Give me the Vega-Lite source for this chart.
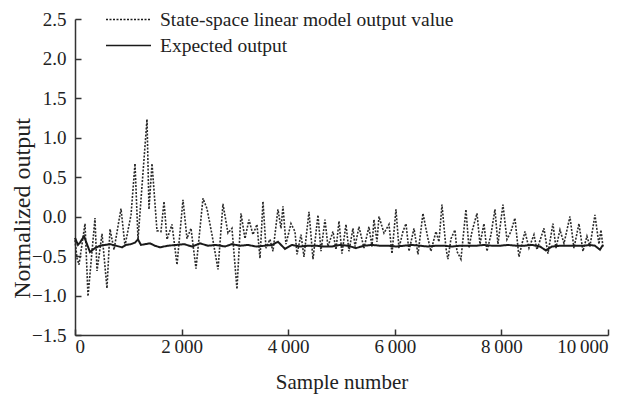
{
  "$schema": "https://vega.github.io/schema/vega-lite/v6.json",
  "autosize": "none",
  "width": 533,
  "height": 316,
  "padding": {"left": 75, "top": 19, "right": 29, "bottom": 62},
  "background": "white",
  "config": {
    "view": {"stroke": null},
    "font": "Times New Roman, Liberation Serif, serif",
    "axis": {
      "grid": false,
      "domainColor": "#333",
      "domainWidth": 1.5,
      "tickColor": "#333",
      "tickWidth": 1.5,
      "tickSize": -6,
      "labelFont": "Times New Roman, Liberation Serif, serif",
      "titleFont": "Times New Roman, Liberation Serif, serif",
      "labelFontSize": 19,
      "labelColor": "#222",
      "titleFontWeight": "normal",
      "titleColor": "#222"
    },
    "legend": {
      "labelFont": "Times New Roman, Liberation Serif, serif",
      "labelFontSize": 19.5,
      "labelColor": "#222",
      "labelLimit": 0
    }
  },
  "datasets": {
    "model": [
      {"sample":0,"value":-0.30},{"sample":38,"value":-0.53},{"sample":75,"value":-0.61},{"sample":188,"value":-0.09},{"sample":244,"value":-1.01},{"sample":375,"value":-0.02},{"sample":413,"value":-0.69},{"sample":507,"value":-0.22},{"sample":600,"value":-0.91},{"sample":657,"value":-0.16},{"sample":732,"value":-0.42},{"sample":863,"value":0.10},{"sample":938,"value":-0.37},{"sample":1051,"value":0.02},{"sample":1126,"value":0.67},{"sample":1182,"value":-0.29},{"sample":1351,"value":1.23},{"sample":1388,"value":0.09},{"sample":1445,"value":0.67},{"sample":1538,"value":-0.18},{"sample":1613,"value":-0.19},{"sample":1670,"value":0.19},{"sample":1726,"value":-0.29},{"sample":1820,"value":-0.10},{"sample":1914,"value":-0.61},{"sample":2026,"value":0.21},{"sample":2101,"value":-0.28},{"sample":2176,"value":-0.15},{"sample":2270,"value":-0.66},{"sample":2401,"value":0.23},{"sample":2476,"value":0.10},{"sample":2570,"value":-0.23},{"sample":2683,"value":-0.67},{"sample":2776,"value":0.16},{"sample":2870,"value":-0.21},{"sample":2945,"value":-0.15},{"sample":3039,"value":-0.92},{"sample":3114,"value":0.04},{"sample":3189,"value":-0.28},{"sample":3264,"value":-0.04},{"sample":3339,"value":-0.23},{"sample":3414,"value":-0.10},{"sample":3471,"value":-0.53},{"sample":3527,"value":0.19},{"sample":3583,"value":-0.40},{"sample":3658,"value":-0.29},{"sample":3714,"value":-0.44},{"sample":3808,"value":0.09},{"sample":3865,"value":-0.15},{"sample":3902,"value":0.13},{"sample":3958,"value":-0.35},{"sample":4052,"value":-0.09},{"sample":4127,"value":-0.19},{"sample":4165,"value":-0.48},{"sample":4240,"value":-0.23},{"sample":4296,"value":-0.51},{"sample":4390,"value":0.06},{"sample":4465,"value":-0.54},{"sample":4559,"value":0.02},{"sample":4615,"value":-0.44},{"sample":4690,"value":-0.04},{"sample":4746,"value":-0.38},{"sample":4840,"value":-0.19},{"sample":4896,"value":-0.42},{"sample":4953,"value":-0.06},{"sample":5009,"value":-0.47},{"sample":5084,"value":-0.10},{"sample":5140,"value":-0.44},{"sample":5215,"value":-0.15},{"sample":5253,"value":-0.38},{"sample":5328,"value":-0.13},{"sample":5422,"value":-0.40},{"sample":5515,"value":-0.13},{"sample":5572,"value":-0.38},{"sample":5609,"value":-0.04},{"sample":5666,"value":-0.32},{"sample":5703,"value":0.00},{"sample":5797,"value":-0.21},{"sample":5891,"value":-0.10},{"sample":5947,"value":-0.47},{"sample":6022,"value":0.09},{"sample":6078,"value":-0.40},{"sample":6153,"value":-0.19},{"sample":6210,"value":-0.09},{"sample":6266,"value":-0.44},{"sample":6360,"value":-0.15},{"sample":6435,"value":-0.48},{"sample":6528,"value":0.04},{"sample":6622,"value":-0.28},{"sample":6678,"value":-0.44},{"sample":6772,"value":-0.19},{"sample":6829,"value":-0.32},{"sample":6885,"value":0.15},{"sample":6960,"value":-0.40},{"sample":6997,"value":-0.54},{"sample":7054,"value":-0.28},{"sample":7129,"value":-0.17},{"sample":7166,"value":-0.44},{"sample":7241,"value":-0.54},{"sample":7335,"value":0.09},{"sample":7391,"value":-0.40},{"sample":7448,"value":-0.19},{"sample":7542,"value":0.04},{"sample":7598,"value":-0.35},{"sample":7673,"value":-0.09},{"sample":7729,"value":-0.44},{"sample":7804,"value":-0.23},{"sample":7879,"value":0.09},{"sample":7935,"value":-0.35},{"sample":8029,"value":0.15},{"sample":8104,"value":-0.29},{"sample":8179,"value":-0.19},{"sample":8254,"value":-0.02},{"sample":8329,"value":-0.51},{"sample":8442,"value":-0.19},{"sample":8517,"value":-0.40},{"sample":8611,"value":-0.23},{"sample":8667,"value":-0.42},{"sample":8798,"value":-0.15},{"sample":8873,"value":-0.47},{"sample":8967,"value":-0.09},{"sample":9024,"value":-0.40},{"sample":9099,"value":-0.17},{"sample":9174,"value":-0.34},{"sample":9211,"value":-0.23},{"sample":9286,"value":0.00},{"sample":9361,"value":-0.40},{"sample":9455,"value":-0.09},{"sample":9530,"value":-0.44},{"sample":9605,"value":-0.25},{"sample":9661,"value":-0.38},{"sample":9755,"value":0.02},{"sample":9830,"value":-0.35},{"sample":9868,"value":-0.17},{"sample":9905,"value":-0.38}
    ],
    "expected": [
      {"sample":0,"value":-0.27},{"sample":56,"value":-0.36},{"sample":94,"value":-0.33},{"sample":169,"value":-0.25},{"sample":225,"value":-0.35},{"sample":281,"value":-0.45},{"sample":375,"value":-0.40},{"sample":469,"value":-0.37},{"sample":563,"value":-0.36},{"sample":657,"value":-0.35},{"sample":769,"value":-0.37},{"sample":882,"value":-0.39},{"sample":957,"value":-0.36},{"sample":1051,"value":-0.35},{"sample":1126,"value":-0.33},{"sample":1182,"value":-0.29},{"sample":1238,"value":-0.36},{"sample":1313,"value":-0.35},{"sample":1407,"value":-0.34},{"sample":1501,"value":-0.37},{"sample":1595,"value":-0.39},{"sample":1745,"value":-0.37},{"sample":1895,"value":-0.36},{"sample":2045,"value":-0.35},{"sample":2195,"value":-0.38},{"sample":2345,"value":-0.34},{"sample":2495,"value":-0.37},{"sample":2645,"value":-0.36},{"sample":2814,"value":-0.38},{"sample":2945,"value":-0.35},{"sample":3095,"value":-0.37},{"sample":3245,"value":-0.36},{"sample":3396,"value":-0.38},{"sample":3564,"value":-0.37},{"sample":3696,"value":-0.36},{"sample":3808,"value":-0.32},{"sample":3940,"value":-0.41},{"sample":4071,"value":-0.36},{"sample":4221,"value":-0.38},{"sample":4371,"value":-0.37},{"sample":4521,"value":-0.37},{"sample":4671,"value":-0.38},{"sample":4821,"value":-0.38},{"sample":4971,"value":-0.36},{"sample":5121,"value":-0.37},{"sample":5272,"value":-0.40},{"sample":5422,"value":-0.37},{"sample":5572,"value":-0.36},{"sample":5722,"value":-0.37},{"sample":5872,"value":-0.37},{"sample":6022,"value":-0.38},{"sample":6172,"value":-0.37},{"sample":6322,"value":-0.36},{"sample":6472,"value":-0.37},{"sample":6622,"value":-0.38},{"sample":6772,"value":-0.37},{"sample":6922,"value":-0.37},{"sample":7073,"value":-0.38},{"sample":7223,"value":-0.37},{"sample":7373,"value":-0.37},{"sample":7523,"value":-0.37},{"sample":7673,"value":-0.36},{"sample":7823,"value":-0.37},{"sample":7973,"value":-0.37},{"sample":8123,"value":-0.36},{"sample":8273,"value":-0.37},{"sample":8423,"value":-0.37},{"sample":8573,"value":-0.36},{"sample":8723,"value":-0.38},{"sample":8836,"value":-0.43},{"sample":8949,"value":-0.38},{"sample":9099,"value":-0.37},{"sample":9249,"value":-0.37},{"sample":9399,"value":-0.37},{"sample":9549,"value":-0.37},{"sample":9661,"value":-0.36},{"sample":9755,"value":-0.37},{"sample":9849,"value":-0.42},{"sample":9905,"value":-0.36}
    ]
  },
  "encoding": {
    "x": {
      "field": "sample", "type": "quantitative",
      "scale": {"domain": [0, 10000], "nice": false, "zero": false},
      "axis": {
        "values": [0, 2000, 4000, 6000, 8000, 10000],
        "labelExpr": "replace(format(datum.value, ','), ',', '\u2009')",
        "labelPadding": 8,
        "title": "Sample number",
        "titleFontSize": 21,
        "titleY": 47,
        "titleBaseline": "middle"
      }
    },
    "y": {
      "field": "value", "type": "quantitative",
      "scale": {"domain": [-1.5, 2.5], "nice": false, "zero": false},
      "axis": {
        "values": [-1.5, -1.0, -0.5, 0.0, 0.5, 1.0, 1.5, 2.0, 2.5],
        "format": ".1f",
        "labelPadding": 15,
        "title": "Normalized output",
        "titleFontSize": 24,
        "titleX": -53,
        "titleY": 189,
        "titleAlign": "center",
        "titleBaseline": "middle"
      }
    }
  },
  "layer": [
    {
      "data": {"name": "model"},
      "mark": {"type": "line", "color": "#2a2a2a", "strokeWidth": 1.6},
      "encoding": {
        "strokeDash": {
          "datum": "State-space linear model output value",
          "type": "nominal",
          "scale": {
            "domain": ["State-space linear model output value", "Expected output"],
            "range": [[2, 1.5], [1, 0]]
          },
          "legend": {
            "title": null,
            "orient": "none",
            "legendX": 30,
            "legendY": -9,
            "padding": 0,
            "symbolType": "stroke",
            "symbolSize": 2025,
            "symbolStrokeColor": "#222",
            "symbolStrokeWidth": 1.6,
            "labelOffset": 8,
            "clipHeight": 19,
            "rowPadding": 6
          }
        }
      }
    },
    {
      "data": {"name": "expected"},
      "mark": {"type": "line", "color": "#1a1a1a", "strokeWidth": 2},
      "encoding": {
        "strokeDash": {"datum": "Expected output", "type": "nominal"}
      }
    }
  ]
}
